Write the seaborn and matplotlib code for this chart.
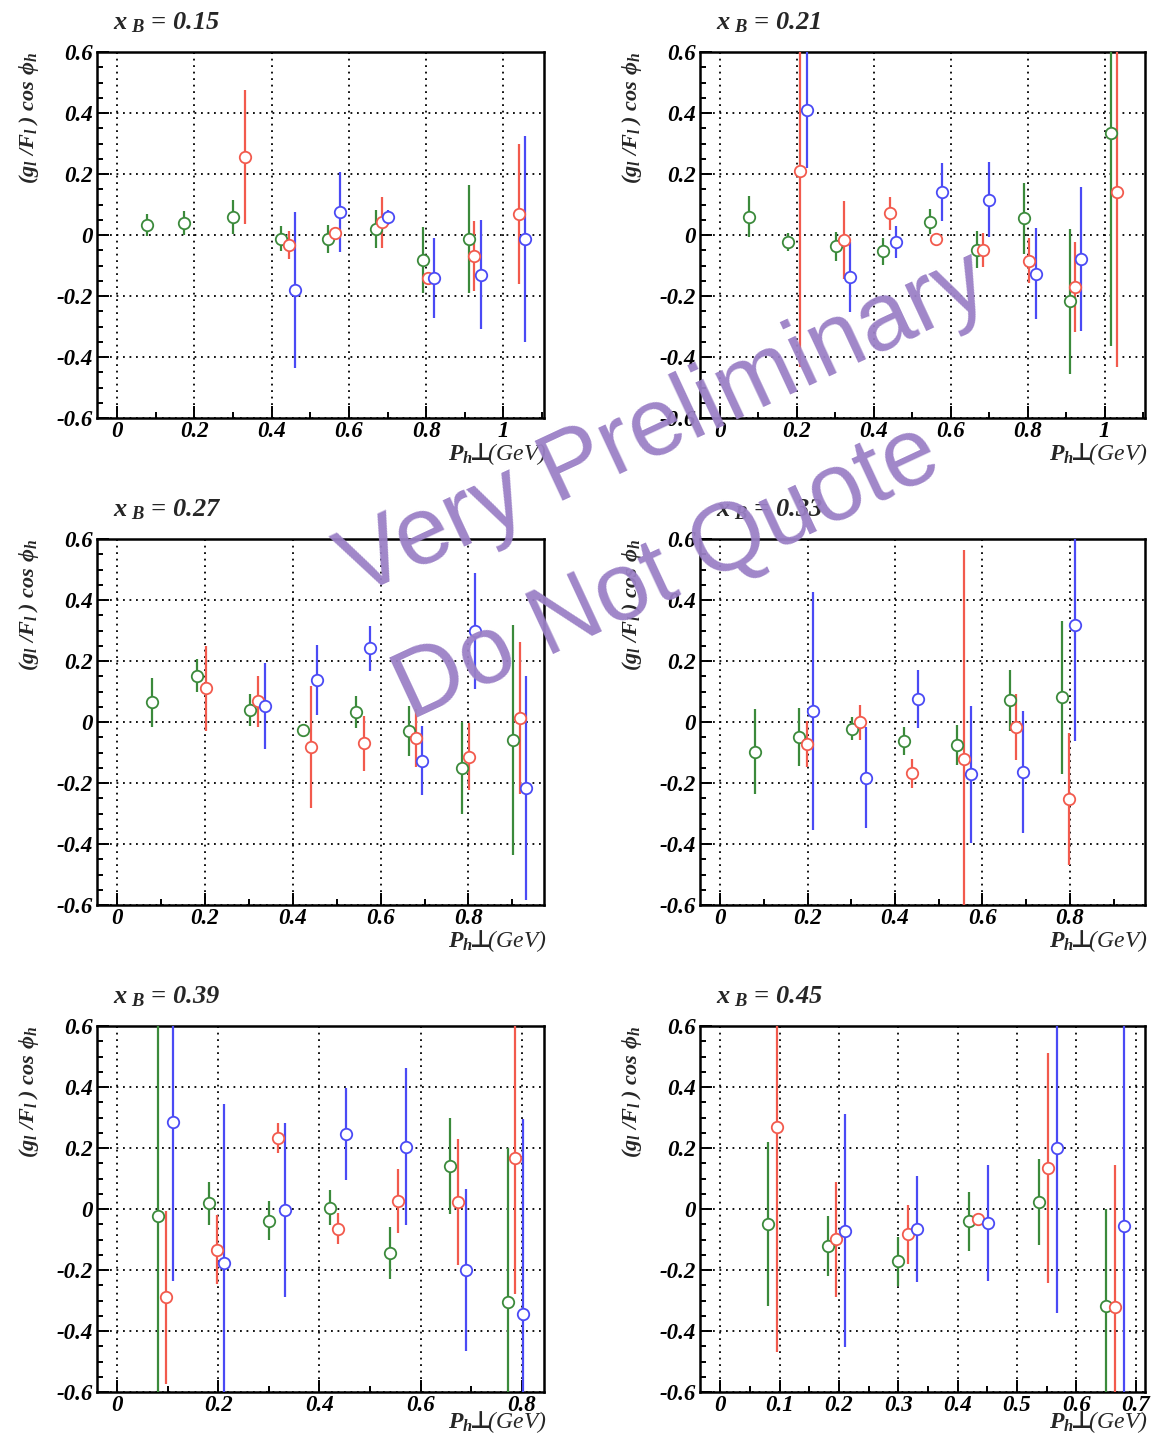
import matplotlib
matplotlib.use("Agg")
import matplotlib.pyplot as plt
from matplotlib.ticker import MultipleLocator, FuncFormatter
import pandas as pd
import seaborn as sns

# ---------------- data: (g_l/F_l) cos(phi_h) vs P_h_perp, three series per x_B bin
# x_B = 0.15
x015_g = [0.078, 0.174, 0.299, 0.424, 0.546, 0.669, 0.791, 0.912]
y015_g = [0.033, 0.039, 0.059, -0.012, -0.013, 0.020, -0.082, -0.013]
e015_g = [0.035, 0.040, 0.055, 0.040, 0.047, 0.063, 0.107, 0.176]
x015_r = [0.330, 0.445, 0.564, 0.685, 0.805, 0.925, 1.040]
y015_r = [0.257, -0.033, 0.008, 0.042, -0.142, -0.070, 0.070]
e015_r = [0.220, 0.045, 0.015, 0.083, 0.020, 0.115, 0.230]
x015_b = [0.461, 0.578, 0.700, 0.819, 0.941, 1.056]
y015_b = [-0.179, 0.075, 0.058, -0.141, -0.130, -0.014]
e015_b = [0.256, 0.130, 0.025, 0.131, 0.178, 0.337]

# x_B = 0.21
x021_g = [0.076, 0.178, 0.301, 0.424, 0.547, 0.668, 0.790, 0.909, 1.016]
y021_g = [0.060, -0.023, -0.037, -0.054, 0.044, -0.048, 0.055, -0.218, 0.335]
e021_g = [0.067, 0.030, 0.047, 0.045, 0.042, 0.060, 0.116, 0.238, 0.700]
x021_r = [0.209, 0.323, 0.443, 0.562, 0.685, 0.804, 0.923, 1.031]
y021_r = [0.209, -0.017, 0.071, -0.012, -0.050, -0.084, -0.170, 0.140]
e021_r = [0.643, 0.127, 0.053, 0.012, 0.055, 0.075, 0.147, 0.574]
x021_b = [0.225, 0.339, 0.458, 0.578, 0.699, 0.821, 0.938]
y021_b = [0.410, -0.137, -0.022, 0.142, 0.116, -0.127, -0.080]
e021_b = [0.190, 0.115, 0.052, 0.095, 0.123, 0.150, 0.236]

# x_B = 0.27
x027_g = [0.079, 0.181, 0.302, 0.424, 0.544, 0.664, 0.785, 0.901]
y027_g = [0.065, 0.151, 0.040, -0.025, 0.033, -0.029, -0.151, -0.060]
e027_g = [0.080, 0.054, 0.052, 0.008, 0.052, 0.081, 0.150, 0.377]
x027_r = [0.203, 0.320, 0.441, 0.561, 0.681, 0.801, 0.917]
y027_r = [0.110, 0.068, -0.083, -0.070, -0.053, -0.114, 0.013]
e027_r = [0.138, 0.083, 0.200, 0.091, 0.095, 0.110, 0.250]
x027_b = [0.336, 0.455, 0.575, 0.695, 0.815, 0.930]
y027_b = [0.053, 0.138, 0.241, -0.127, 0.298, -0.215]
e027_b = [0.140, 0.114, 0.075, 0.113, 0.190, 0.367]

# x_B = 0.33
x033_g = [0.079, 0.180, 0.301, 0.421, 0.542, 0.663, 0.781]
y033_g = [-0.097, -0.049, -0.022, -0.062, -0.075, 0.071, 0.081]
e033_g = [0.140, 0.096, 0.037, 0.045, 0.065, 0.100, 0.250]
x033_r = [0.198, 0.319, 0.439, 0.558, 0.678, 0.798]
y033_r = [-0.071, -0.001, -0.168, -0.122, -0.015, -0.253]
e033_r = [0.075, 0.057, 0.047, 0.687, 0.108, 0.217]
x033_b = [0.212, 0.333, 0.453, 0.573, 0.694, 0.812]
y033_b = [0.036, -0.183, 0.075, -0.171, -0.164, 0.317]
e033_b = [0.390, 0.166, 0.095, 0.225, 0.200, 0.380]

# x_B = 0.39
x039_g = [0.080, 0.181, 0.301, 0.421, 0.540, 0.659, 0.773]
y039_g = [-0.024, 0.019, -0.038, 0.004, -0.143, 0.142, -0.306]
e039_g = [0.700, 0.070, 0.064, 0.058, 0.085, 0.158, 0.505]
x039_r = [0.096, 0.198, 0.317, 0.436, 0.555, 0.674, 0.787]
y039_r = [-0.290, -0.133, 0.233, -0.064, 0.027, 0.022, 0.167]
e039_r = [0.285, 0.112, 0.050, 0.052, 0.105, 0.207, 0.446]
x039_b = [0.110, 0.211, 0.332, 0.452, 0.572, 0.690, 0.803]
y039_b = [0.284, -0.177, -0.002, 0.245, 0.204, -0.200, -0.344]
e039_b = [0.520, 0.520, 0.285, 0.151, 0.257, 0.267, 0.640]

# x_B = 0.45
x045_g = [0.080, 0.181, 0.300, 0.419, 0.537, 0.650]
y045_g = [-0.049, -0.122, -0.171, -0.040, 0.023, -0.318]
e045_g = [0.270, 0.098, 0.080, 0.097, 0.140, 0.318]
x045_r = [0.096, 0.196, 0.316, 0.435, 0.552, 0.666]
y045_r = [0.268, -0.099, -0.083, -0.033, 0.134, -0.320]
e045_r = [0.737, 0.189, 0.097, 0.015, 0.376, 0.464]
x045_b = [0.211, 0.331, 0.451, 0.568, 0.681]
y045_b = [-0.071, -0.065, -0.047, 0.200, -0.057]
e045_b = [0.383, 0.174, 0.190, 0.540, 0.700]

xb_labels = ["0.15", "0.21", "0.27", "0.33", "0.39", "0.45"]

series_colors = {"green": "#3b8a3b", "red": "#f25a4d", "blue": "#4a4af5"}

panel_series = [
    {"green": (x015_g, y015_g, e015_g), "red": (x015_r, y015_r, e015_r), "blue": (x015_b, y015_b, e015_b)},
    {"green": (x021_g, y021_g, e021_g), "red": (x021_r, y021_r, e021_r), "blue": (x021_b, y021_b, e021_b)},
    {"green": (x027_g, y027_g, e027_g), "red": (x027_r, y027_r, e027_r), "blue": (x027_b, y027_b, e027_b)},
    {"green": (x033_g, y033_g, e033_g), "red": (x033_r, y033_r, e033_r), "blue": (x033_b, y033_b, e033_b)},
    {"green": (x039_g, y039_g, e039_g), "red": (x039_r, y039_r, e039_r), "blue": (x039_b, y039_b, e039_b)},
    {"green": (x045_g, y045_g, e045_g), "red": (x045_r, y045_r, e045_r), "blue": (x045_b, y045_b, e045_b)},
]

# axis ranges and tick spacing per panel
x_ranges = [(-0.052, 1.105), (-0.052, 1.105), (-0.046, 0.972),
            (-0.046, 0.972), (-0.040, 0.844), (-0.034, 0.716)]
x_major = [0.2, 0.2, 0.2, 0.2, 0.2, 0.1]
x_minor = [0.1, 0.1, 0.1, 0.1, 0.1, 0.05]

# ---------------- style
sns.set_theme(style="ticks")
serif = "Liberation Serif"
plt.rcParams["font.family"] = [serif, "DejaVu Serif"]
plt.rcParams["font.weight"] = "bold"
plt.rcParams["font.style"] = "italic"
plt.rcParams["mathtext.fontset"] = "custom"
plt.rcParams["mathtext.rm"] = "Liberation Serif:bold:italic"
plt.rcParams["mathtext.it"] = "Liberation Serif:bold:italic"
plt.rcParams["mathtext.bf"] = "Liberation Serif:bold:italic"
plt.rcParams["mathtext.sf"] = "DejaVu Sans:bold"
plt.rcParams["mathtext.fallback"] = "stix"

W, H = 1163, 1435
fig = plt.figure(figsize=(W / 100, H / 100), dpi=100)
fig.patch.set_facecolor("white")

col_left = [97, 700]
col_width = [447, 445]
row_top = [52, 539, 1026]
ax_h = 366
xlabel_y = [-0.062, -0.062, -0.046]

fmt = FuncFormatter(lambda v, p: ("%g" % round(v, 6)))

for i in range(6):
    r, c = divmod(i, 2)
    left = col_left[c] / W
    bottom = 1 - (row_top[r] + ax_h) / H
    ax = fig.add_axes([left, bottom, col_width[c] / W, ax_h / H])
    ax.set_facecolor("white")

    for name, (xs, ys, es) in panel_series[i].items():
        col = series_colors[name]
        df = pd.DataFrame({"pt": xs, "val": ys, "err": es})
        ax.errorbar(df["pt"], df["val"], yerr=df["err"], fmt="none",
                    ecolor=col, elinewidth=1.6, capsize=0, zorder=3)
        sns.scatterplot(data=df, x="pt", y="val", ax=ax, marker="o", s=68,
                        color=col, zorder=4, legend=False)
        coll = ax.collections[-1]
        coll.set_facecolor("white")
        coll.set_edgecolor(col)
        coll.set_linewidth(1.3)

    ax.set_xlim(*x_ranges[i])
    ax.set_ylim(-0.6, 0.6)
    ax.xaxis.set_major_locator(MultipleLocator(x_major[i]))
    ax.xaxis.set_minor_locator(MultipleLocator(x_minor[i]))
    ax.yaxis.set_major_locator(MultipleLocator(0.2))
    ax.yaxis.set_minor_locator(MultipleLocator(0.05))
    ax.xaxis.set_major_formatter(fmt)
    ax.yaxis.set_major_formatter(fmt)

    ax.grid(True, which="major", color="black", linestyle=(0, (1, 2.6)), linewidth=1.3)
    ax.set_axisbelow(True)
    for sp in ax.spines.values():
        sp.set_visible(True)
        sp.set_color("black")
        sp.set_linewidth(1.8)

    ax.tick_params(which="both", direction="in", top=False, right=False,
                   color="black", width=1.4, labelsize=16.5, labelcolor="black")
    ax.tick_params(which="major", length=8.5)
    ax.tick_params(axis="y", which="major", pad=3)
    ax.tick_params(axis="x", which="major", pad=2)
    ax.tick_params(which="minor", length=4.5)
    for lab in ax.get_xticklabels() + ax.get_yticklabels():
        lab.set_fontweight("bold")
        lab.set_fontstyle("italic")

    ax.set_xlabel("$P_{h}\\!\\mathsf{\u22a5}\\!$(GeV)", fontsize=17, loc="right")
    ax.xaxis.set_label_coords(1.006, xlabel_y[r])
    ax.set_ylabel(r"$(g_{l}\ /F_{l}\ )\ cos\ \phi_{h}$", fontsize=16, loc="top")
    ax.yaxis.set_label_coords(-0.125, 1.0)

    ax.text(0.036, 1.062, r"$x_{\ B}$ = " + xb_labels[i], transform=ax.transAxes,
            fontsize=19, ha="left", va="baseline")

# watermark
wm = dict(color="#9b80c6", fontsize=69.5, family="Liberation Sans",
          fontweight="normal", fontstyle="normal", rotation=25,
          ha="center", va="center", zorder=20, alpha=0.95)
fig.text(665 / W, 1 - 426 / H, "Very Preliminary", **wm)
fig.text(667 / W, 1 - 573 / H, "Do Not Quote", **wm)

fig.savefig("out.png", dpi=100, facecolor="white")
